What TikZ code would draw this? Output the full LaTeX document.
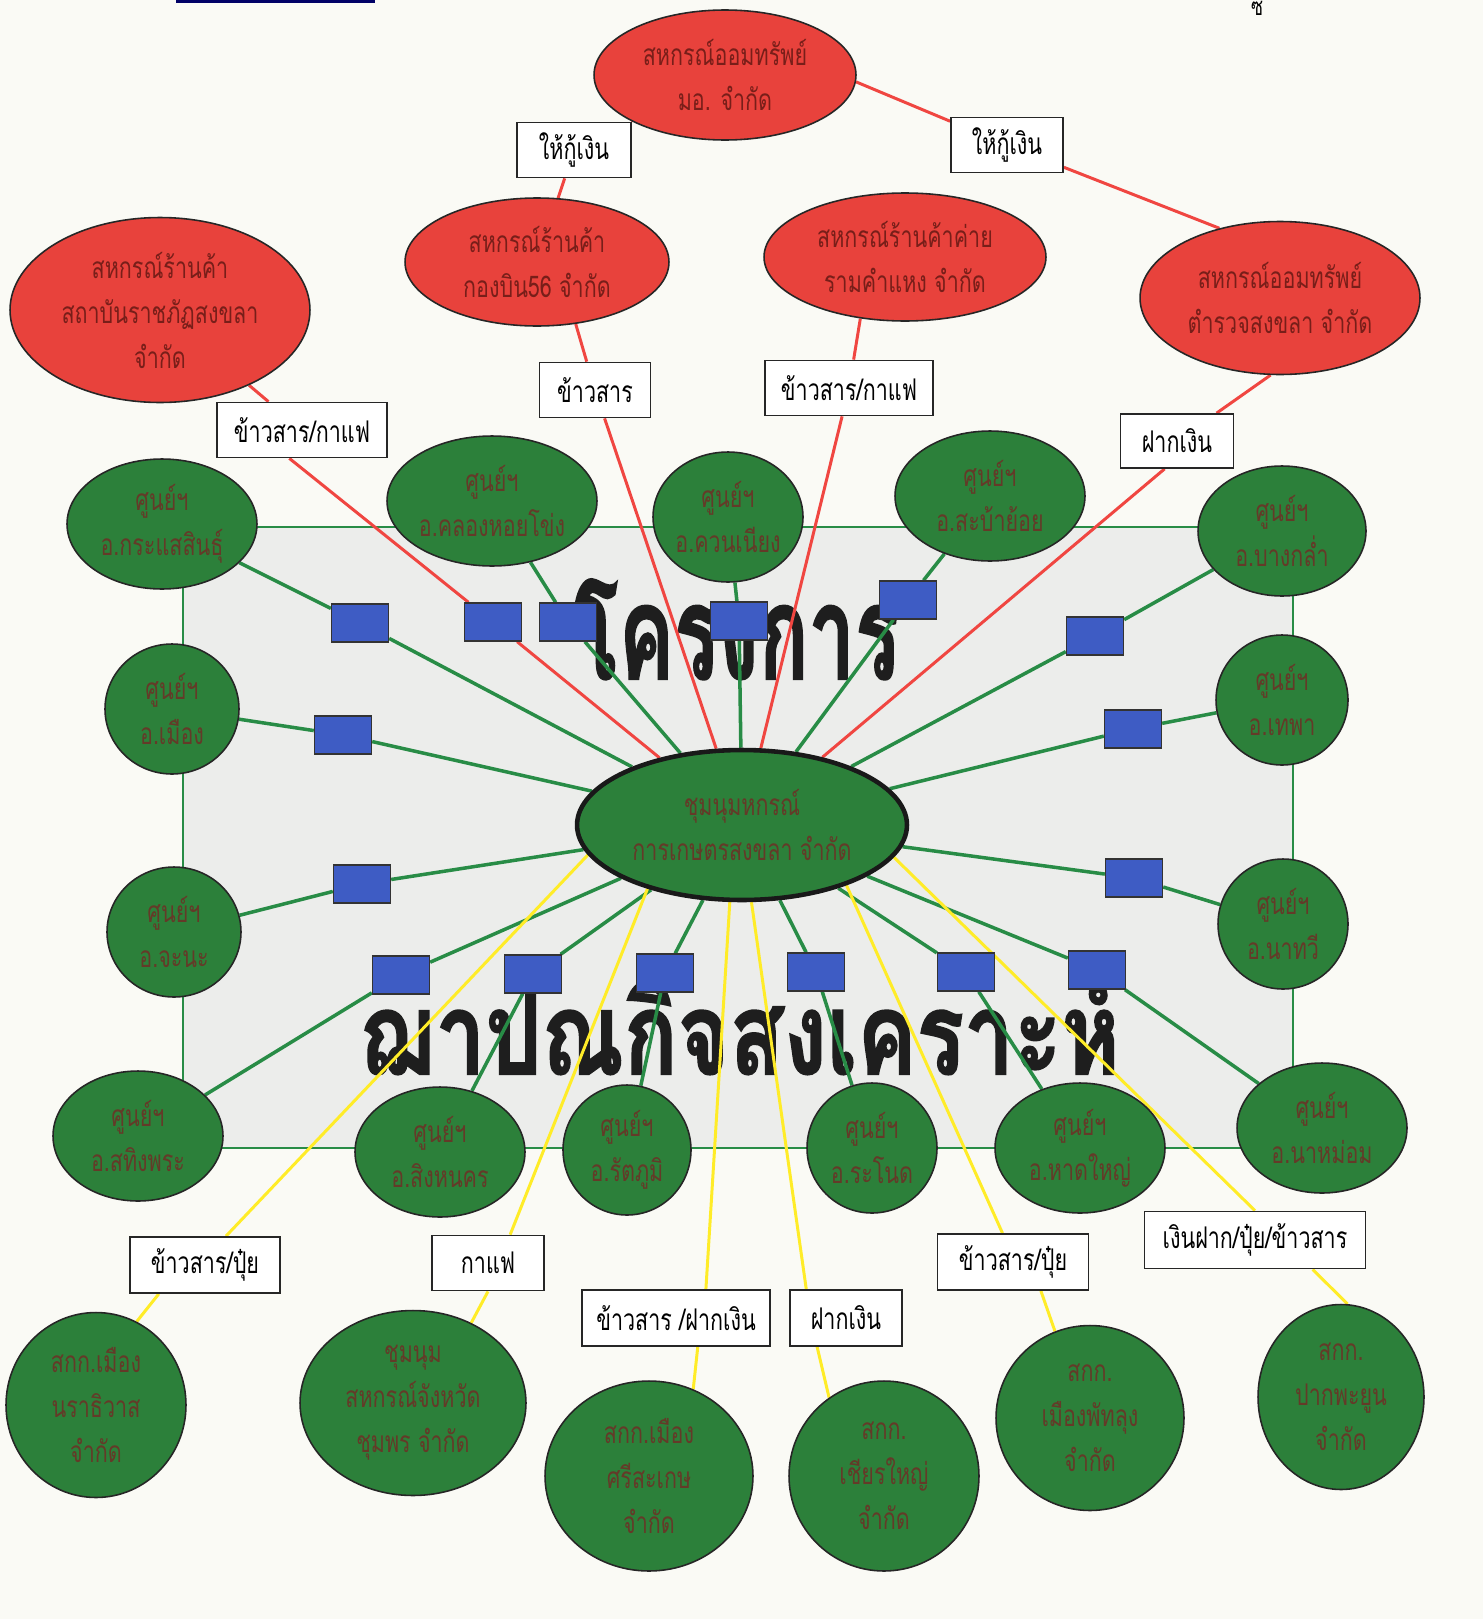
\documentclass[tikz,border=0pt]{standalone}
\usepackage{fontspec}
\usepackage{graphicx}
\usetikzlibrary{shapes.geometric,calc}
\newfontfamily\thai[Script=Thai,FakeStretch=0.72]{Loma}
\newfontfamily\thaibig[Script=Thai,FakeBold=1.6]{Loma}
\newcommand\thaitxt{\thai\fontsize{17}{25.6}\selectfont}
\definecolor{bgc}{RGB}{250,250,245}
\definecolor{redf}{RGB}{232,66,60}
\definecolor{greenf}{RGB}{44,128,58}
\definecolor{panelc}{RGB}{236,237,235}
\definecolor{bluef}{RGB}{62,92,196}
\definecolor{redl}{RGB}{240,70,65}
\definecolor{yell}{RGB}{255,236,40}
\definecolor{greenl}{RGB}{40,140,70}
\definecolor{redtxt}{RGB}{120,30,25}
\definecolor{greentxt}{RGB}{100,58,40}
\definecolor{bigtxt}{RGB}{30,30,30}
\pgfdeclarelayer{back}
\pgfdeclarelayer{lines}
\pgfsetlayers{back,lines,main}
\tikzset{
 rell/.style={ellipse, draw=black!85, line width=0.9pt, fill=redf, inner sep=0pt},
 gell/.style={ellipse, draw=black!85, line width=0.9pt, fill=greenf, inner sep=0pt, minimum height=2.6cm},
 rtxt/.style={align=center, font=\thaitxt, text=redtxt},
 gtxt/.style={align=center, font=\thaitxt, text=greentxt},
 lbox/.style={draw=black!85, line width=1pt, fill=white, inner sep=0pt, font=\thaitxt, text=black, minimum height=1.1cm},
 sq/.style={draw=black!80, line width=0.8pt, fill=bluef, minimum width=1.14cm, minimum height=0.76cm, inner sep=0pt},
 redline/.style={draw=redl, line width=1.7pt},
 grnline/.style={draw=greenl, line width=2pt},
 yline/.style={draw=yell, line width=1.7pt},
}
\begin{document}
\begin{tikzpicture}[x=0.02cm,y=-0.02cm]
\useasboundingbox (0,0) rectangle (1483,1619);

\begin{pgfonlayer}{back}
\fill[bgc] (0,0) rectangle (1483,1619);
\fill[blue!40!black] (176,0) rectangle (375,3);
\draw[fill=panelc, draw=greenl, line width=1.6pt] (183,527) rectangle (1293,1148);
\node[anchor=south, inner sep=0pt, text=bigtxt] (T1) at (737,680)
  {\resizebox{6.5cm}{2.0cm}{\thaibig\bfseries โครงการ}};
\node[anchor=south, inner sep=0pt, text=bigtxt] (T2) at (740,1075)
  {\resizebox{15.2cm}{2.0cm}{\thaibig\bfseries ฌาปณกิจสงเคราะห์}};
\end{pgfonlayer}

\node[font=\thai\fontsize{14}{16}\selectfont] (pg) at (1257,8) {ซ};

% red ellipses
\node[rell,minimum width=5.24cm,minimum height=2.6cm,label={[rtxt]center:{สหกรณ์ออมทรัพย์\\มอ. จำกัด}}] (Rtop) at (725,75) {};
\node[rell,minimum width=6.0cm,minimum height=3.7cm,label={[rtxt]center:{สหกรณ์ร้านค้า\\สถาบันราชภัฏสงขลา\\จำกัด}}] (Rleft) at (160,310) {};
\node[rell,minimum width=5.28cm,minimum height=2.56cm,label={[rtxt]center:{สหกรณ์ร้านค้า\\กองบิน56 จำกัด}}] (Rk56) at (537,262) {};
\node[rell,minimum width=5.64cm,minimum height=2.56cm,label={[rtxt]center:{สหกรณ์ร้านค้าค่าย\\รามคำแหง จำกัด}}] (Rram) at (905,257) {};
\node[rell,minimum width=5.6cm,minimum height=3.06cm,label={[rtxt]center:{สหกรณ์ออมทรัพย์\\ตำรวจสงขลา จำกัด}}] (Rpol) at (1280,298) {};

% center
\node[ellipse, draw=black!90, line width=2.6pt, fill=greenf, inner sep=0pt, minimum width=6.6cm, minimum height=3.0cm,
  label={[gtxt]center:{ชุมนุมหกรณ์\\การเกษตรสงขลา จำกัด}}] (C) at (742,825) {};

% green centres
\node[gell,minimum width=3.8cm,label={[gtxt]center:{ศูนย์ฯ\\อ.กระแสสินธุ์}}] (G1) at (162,524) {};
\node[gell,minimum width=4.2cm,label={[gtxt]center:{ศูนย์ฯ\\อ.คลองหอยโข่ง}}] (G2) at (492,501) {};
\node[gell,minimum width=3.0cm,label={[gtxt]center:{ศูนย์ฯ\\อ.ควนเนียง}}] (G3) at (728,517) {};
\node[gell,minimum width=3.8cm,label={[gtxt]center:{ศูนย์ฯ\\อ.สะบ้าย้อย}}] (G4) at (990,496) {};
\node[gell,minimum width=3.36cm,label={[gtxt]center:{ศูนย์ฯ\\อ.บางกล่ำ}}] (G5) at (1282,531) {};
\node[gell,minimum width=2.68cm,label={[gtxt]center:{ศูนย์ฯ\\อ.เมือง}}] (G6) at (172,709) {};
\node[gell,minimum width=2.68cm,label={[gtxt]center:{ศูนย์ฯ\\อ.จะนะ}}] (G7) at (174,932) {};
\node[gell,minimum width=2.64cm,label={[gtxt]center:{ศูนย์ฯ\\อ.เทพา}}] (G8) at (1282,700) {};
\node[gell,minimum width=2.6cm,label={[gtxt]center:{ศูนย์ฯ\\อ.นาทวี}}] (G9) at (1283,924) {};
\node[gell,minimum width=3.4cm,label={[gtxt]center:{ศูนย์ฯ\\อ.สทิงพระ}}] (G10) at (138,1136) {};
\node[gell,minimum width=3.4cm,label={[gtxt]center:{ศูนย์ฯ\\อ.สิงหนคร}}] (G11) at (440,1152) {};
\node[gell,minimum width=2.56cm,label={[gtxt]center:{ศูนย์ฯ\\อ.รัตภูมิ}}] (G12) at (627,1150) {};
\node[gell,minimum width=2.6cm,label={[gtxt]center:{ศูนย์ฯ\\อ.ระโนด}}] (G13) at (872,1148) {};
\node[gell,minimum width=3.4cm,label={[gtxt]center:{ศูนย์ฯ\\อ.หาดใหญ่}}] (G14) at (1080,1148) {};
\node[gell,minimum width=3.4cm,label={[gtxt]center:{ศูนย์ฯ\\อ.นาหม่อม}}] (G15) at (1322,1128) {};

% bottom cooperatives
\node[gell,minimum width=3.6cm,minimum height=3.7cm,label={[gtxt]center:{สกก.เมือง\\นราธิวาส\\จำกัด}}] (S1) at (96,1405) {};
\node[gell,minimum width=4.52cm,minimum height=3.7cm,label={[gtxt]center:{ชุมนุม\\สหกรณ์จังหวัด\\ชุมพร จำกัด}}] (S2) at (413,1403) {};
\node[gell,minimum width=4.16cm,minimum height=3.8cm,label={[gtxt]center:{สกก.เมือง\\ศรีสะเกษ\\จำกัด}}] (S3) at (649,1476) {};
\node[gell,minimum width=3.8cm,minimum height=3.8cm,label={[gtxt]center:{สกก.\\เชียรใหญ่\\จำกัด}}] (S4) at (884,1476) {};
\node[gell,minimum width=3.76cm,minimum height=3.7cm,label={[gtxt]center:{สกก.\\เมืองพัทลุง\\จำกัด}}] (S5) at (1090,1418) {};
\node[gell,minimum width=3.32cm,minimum height=3.7cm,label={[gtxt]center:{สกก.\\ปากพะยูน\\จำกัด}}] (S6) at (1341,1397) {};

% label boxes
\node[lbox,minimum width=2.28cm] (Lt1) at (574,150) {ให้กู้เงิน};
\node[lbox,minimum width=2.24cm] (Lt2) at (1007,145) {ให้กู้เงิน};
\node[lbox,minimum width=3.4cm] (La) at (302,430) {ข้าวสาร/กาแฟ};
\node[lbox,minimum width=2.22cm] (Lb) at (595,390) {ข้าวสาร};
\node[lbox,minimum width=3.36cm] (Lc) at (849,388) {ข้าวสาร/กาแฟ};
\node[lbox,minimum width=2.26cm,minimum height=1.08cm] (Ld) at (1177,441) {ฝากเงิน};
\node[lbox,minimum width=3.0cm,minimum height=1.12cm] (Le) at (205,1265) {ข้าวสาร/ปุ๋ย};
\node[lbox,minimum width=2.24cm] (Lf) at (488,1263) {กาแฟ};
\node[lbox,minimum width=3.76cm,minimum height=1.12cm] (Lg) at (676,1318) {ข้าวสาร /ฝากเงิน};
\node[lbox,minimum width=2.24cm,minimum height=1.12cm] (Lh) at (846,1318) {ฝากเงิน};
\node[lbox,minimum width=3.02cm,minimum height=1.12cm] (Li) at (1013,1262) {ข้าวสาร/ปุ๋ย};
\node[lbox,minimum width=4.42cm,minimum height=1.14cm] (Lj) at (1255,1240) {เงินฝาก/ปุ๋ย/ข้าวสาร};

% blue squares
\node[sq] (B1) at (360,623) {};
\node[sq] (B2) at (493,622) {};
\node[sq] (B3) at (568,622) {};
\node[sq] (B4) at (739,621) {};
\node[sq] (B5) at (908,600) {};
\node[sq] (B6) at (1095,636) {};
\node[sq] (B7) at (343,735) {};
\node[sq] (B8) at (1133,729) {};
\node[sq] (B9) at (362,884) {};
\node[sq] (B10) at (1134,878) {};
\node[sq] (B11) at (401,975) {};
\node[sq] (B12) at (533,974) {};
\node[sq] (B13) at (665,973) {};
\node[sq] (B14) at (816,972) {};
\node[sq] (B15) at (966,972) {};
\node[sq] (B16) at (1097,970) {};

\begin{pgfonlayer}{lines}
% green
\draw[grnline] (C) -- (B1) -- (G1);
\draw[grnline] (C) -- (B3) -- (G2);
\draw[grnline] (C) -- (B4) -- (G3);
\draw[grnline] (C) -- (B5) -- (G4);
\draw[grnline] (C) -- (B6) -- (G5);
\draw[grnline] (C) -- (B7) -- (G6);
\draw[grnline] (C) -- (B8) -- (G8);
\draw[grnline] (C) -- (B9) -- (G7);
\draw[grnline] (C) -- (B10) -- (G9);
\draw[grnline] (C) -- (B11) -- (G10);
\draw[grnline] (C) -- (B12) -- (G11);
\draw[grnline] (C) -- (B13) -- (G12);
\draw[grnline] (C) -- (B14) -- (G13);
\draw[grnline] (C) -- (B15) -- (G14);
\draw[grnline] (C) -- (B16) -- (G15);
% red
\draw[redline] (Rtop) -- (Lt1);
\draw[redline] (Lt1) -- (Rk56);
\draw[redline] (Rtop.-3) -- (Lt2);
\draw[redline] (Lt2) -- (Rpol.131);
\draw[redline] (Rleft) -- (La);
\draw[redline] (La.-114) -- (B2) -- (C);
\draw[redline] (Rk56.-58) -- (Lb);
\draw[redline] (Lb) -- (C);
\draw[redline] (Rram.234) -- (Lc);
\draw[redline] (Lc) -- (C);
\draw[redline] (Rpol.263) -- (Ld);
\draw[redline] (Ld.-114) -- (C);
% yellow
\draw[yline] (C.191) -- (Le.54);
\draw[yline] (Le.212) -- (S1.64);
\draw[yline] (C.214) -- (Lf.52);
\draw[yline] (Lf.south) -- (S2.54);
\draw[yline] (C.261) -- (Lg.44);
\draw[yline] (Lg.-53) -- (S3.63);
\draw[yline] (C.277) -- (Lh.144);
\draw[yline] (Lh.225) -- (S4.125);
\draw[yline] (C.330) -- (Li.110);
\draw[yline] (Li.-46) -- (S5.112);
\draw[yline] (C.348) -- (Lj.north);
\draw[yline] (Lj.-27) -- (S6.86);
\end{pgfonlayer}
\end{tikzpicture}
\end{document}
